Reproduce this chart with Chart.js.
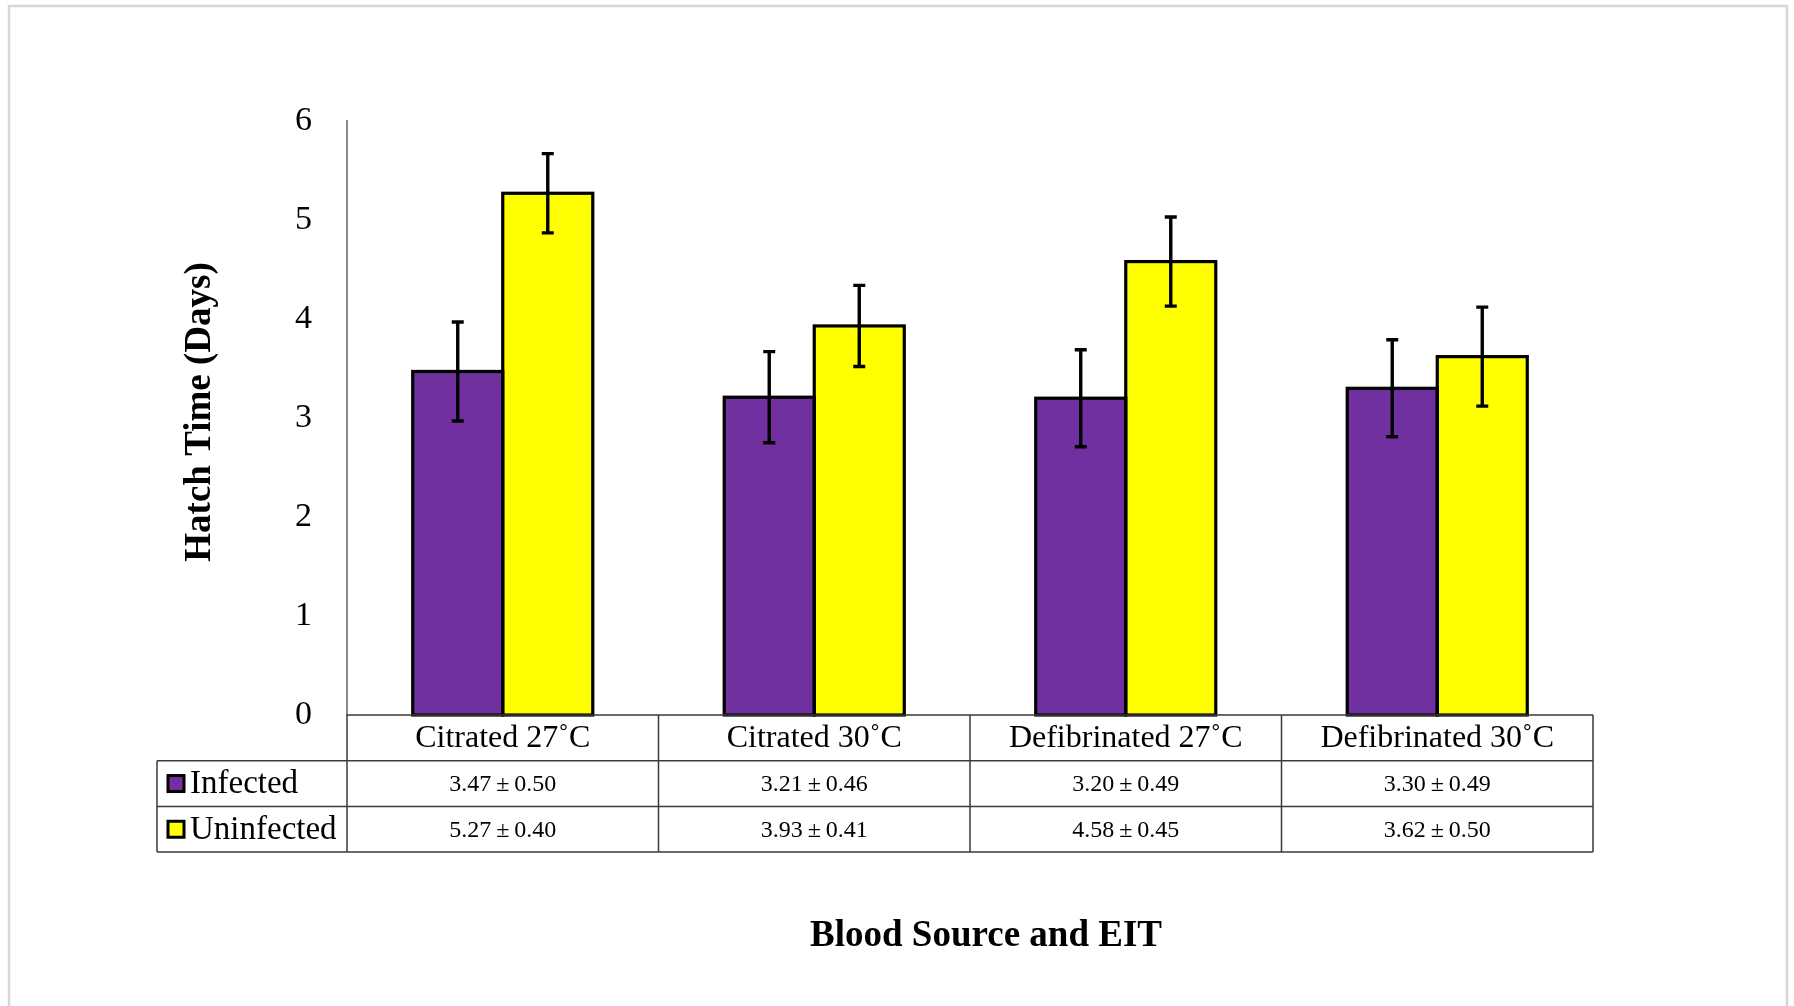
<!DOCTYPE html>
<html>
<head>
<meta charset="utf-8">
<title>Hatch Time by Blood Source and EIT</title>
<script src="https://cdn.jsdelivr.net/npm/chart.js@4.4.1/dist/chart.umd.min.js"></script>
<style>
  html, body { margin: 0; padding: 0; background: #ffffff; }
  #wrap { width: 1794px; height: 1006px; position: relative; }
  canvas { display: block; }
</style>
</head>
<body>
<div id="wrap"><canvas id="chart" width="1794" height="1006"></canvas></div>
<script>
// Blood source / extrinsic incubation temperature groups
const categories = ['Citrated 27˚C', 'Citrated 30˚C', 'Defibrinated 27˚C', 'Defibrinated 30˚C'];

// Mean hatch time (days) and standard deviation per group
const infectedMeans   = [3.47, 3.21, 3.20, 3.30];
const infectedSD      = [0.50, 0.46, 0.49, 0.49];
const uninfectedMeans = [5.27, 3.93, 4.58, 3.62];
const uninfectedSD    = [0.40, 0.41, 0.45, 0.50];

const seriesNames = ['Infected', 'Uninfected'];
const yTicks = [0, 1, 2, 3, 4, 5, 6];

const PURPLE = '#7030A0';
const YELLOW = '#FFFF00';
const SERIF = '"Liberation Serif", "Times New Roman", serif';

const sdBySeries = [infectedSD, uninfectedSD];
const meansBySeries = [infectedMeans, uninfectedMeans];

// Page frame and white background
const framePlugin = {
  id: 'frame',
  beforeDraw(chart) {
    const ctx = chart.ctx;
    ctx.save();
    ctx.fillStyle = '#ffffff';
    ctx.fillRect(0, 0, chart.width, chart.height);
    ctx.strokeStyle = '#d6d6d6';
    ctx.lineWidth = 2.5;
    ctx.strokeRect(9, 6, 1778, 1010);
    ctx.restore();
  }
};

// Outline each bar with a centred stroke, then add the ± SD whiskers
const barDecorPlugin = {
  id: 'barDecor',
  afterDatasetsDraw(chart) {
    const ctx = chart.ctx;
    const yScale = chart.scales.y;
    ctx.save();
    ctx.strokeStyle = '#000000';
    ctx.lineJoin = 'miter';
    chart.data.datasets.forEach((ds, di) => {
      const meta = chart.getDatasetMeta(di);
      meta.data.forEach((bar) => {
        const left = bar.x - bar.width / 2;
        ctx.lineWidth = 3.2;
        ctx.strokeRect(left, bar.y, bar.width, bar.base - bar.y);
      });
    });
    chart.data.datasets.forEach((ds, di) => {
      const meta = chart.getDatasetMeta(di);
      meta.data.forEach((bar, i) => {
        const m = meansBySeries[di][i];
        const sd = sdBySeries[di][i];
        const yTop = yScale.getPixelForValue(m + sd);
        const yBot = yScale.getPixelForValue(m - sd);
        const cap = 6;
        ctx.lineWidth = 3.4;
        ctx.beginPath();
        ctx.moveTo(bar.x, yTop);
        ctx.lineTo(bar.x, yBot);
        ctx.moveTo(bar.x - cap, yTop);
        ctx.lineTo(bar.x + cap, yTop);
        ctx.moveTo(bar.x - cap, yBot);
        ctx.lineTo(bar.x + cap, yBot);
        ctx.stroke();
      });
    });
    ctx.restore();
  }
};

// Data table under the plot, axis titles
const dataTablePlugin = {
  id: 'dataTable',
  afterDraw(chart) {
    const ctx = chart.ctx;
    const xScale = chart.scales.x;
    const area = chart.chartArea;
    const n = categories.length;
    const colW = (area.right - area.left) / n;
    const rowH = 45.7;
    const top = area.bottom;
    const r1 = top + rowH, r2 = top + 2 * rowH, r3 = top + 3 * rowH;
    const tableLeft = 157;

    ctx.save();
    ctx.strokeStyle = '#3a3a3a';
    ctx.lineWidth = 1.5;
    ctx.beginPath();
    // horizontal rules
    ctx.moveTo(area.left, top); ctx.lineTo(area.right, top);
    [r1, r2, r3].forEach(y => { ctx.moveTo(tableLeft, y); ctx.lineTo(area.right, y); });
    // vertical rules
    ctx.moveTo(tableLeft, r1); ctx.lineTo(tableLeft, r3);
    for (let i = 0; i <= n; i++) {
      const x = i < n ? xScale.getPixelForValue(i) - colW / 2 : xScale.getPixelForValue(n - 1) + colW / 2;
      ctx.moveTo(x, top); ctx.lineTo(x, r3);
    }
    ctx.stroke();

    ctx.fillStyle = '#000000';
    ctx.textBaseline = 'middle';
    ctx.textAlign = 'center';

    // category header row
    ctx.font = '32px ' + SERIF;
    categories.forEach((c, i) => {
      ctx.fillText(c, xScale.getPixelForValue(i), top + rowH / 2 + 1);
    });

    // value rows
    ctx.font = '24px ' + SERIF;
    [r1, r2].forEach((rowTop, si) => {
      meansBySeries[si].forEach((m, i) => {
        const label = m.toFixed(2) + '\u2009±\u2009' + sdBySeries[si][i].toFixed(2);
        ctx.fillText(label, xScale.getPixelForValue(i), rowTop + rowH / 2 + 1);
      });
    });

    // series keys
    const colors = [PURPLE, YELLOW];
    [r1, r2].forEach((rowTop, si) => {
      const cy = rowTop + rowH / 2;
      ctx.fillStyle = colors[si];
      ctx.fillRect(168, cy - 8, 16, 16);
      ctx.strokeStyle = '#000000';
      ctx.lineWidth = 3;
      ctx.strokeRect(168, cy - 8, 16, 16);
      ctx.fillStyle = '#000000';
      ctx.textAlign = 'left';
      ctx.font = '33px ' + SERIF;
      ctx.fillText(seriesNames[si], 190, cy + 1);
    });

    // axis titles
    ctx.textAlign = 'center';
    ctx.font = 'bold 37px ' + SERIF;
    ctx.fillText('Blood Source and EIT', 986, 936);
    ctx.save();
    ctx.translate(200, 412);
    ctx.rotate(-Math.PI / 2);
    ctx.fillText('Hatch Time (Days)', 0, 0);
    ctx.restore();

    ctx.restore();
  }
};

new Chart(document.getElementById('chart'), {
  type: 'bar',
  data: {
    labels: categories,
    datasets: [
      {
        label: seriesNames[0],
        data: infectedMeans,
        backgroundColor: PURPLE,
        borderWidth: 0,
        categoryPercentage: 0.578,
        barPercentage: 1.0
      },
      {
        label: seriesNames[1],
        data: uninfectedMeans,
        backgroundColor: YELLOW,
        borderWidth: 0,
        categoryPercentage: 0.578,
        barPercentage: 1.0
      }
    ]
  },
  options: {
    responsive: false,
    animation: false,
    devicePixelRatio: 1,
    layout: { padding: { left: 0, right: 201, top: 121, bottom: 291 } },
    plugins: {
      legend: { display: false },
      tooltip: { enabled: false },
      title: { display: false }
    },
    scales: {
      x: {
        display: false,
        grid: { display: false }
      },
      y: {
        min: yTicks[0],
        max: yTicks[yTicks.length - 1],
        afterFit(scale) { scale.width = 347; },
        afterBuildTicks(scale) { scale.ticks = yTicks.map(v => ({ value: v })); },
        grid: { display: false, drawTicks: false },
        border: { display: true, color: '#8a8a8a', width: 2 },
        ticks: {
          padding: 35,
          color: '#000000',
          font: { family: SERIF, size: 34 }
        }
      }
    }
  },
  plugins: [framePlugin, barDecorPlugin, dataTablePlugin]
});
</script>
</body>
</html>
